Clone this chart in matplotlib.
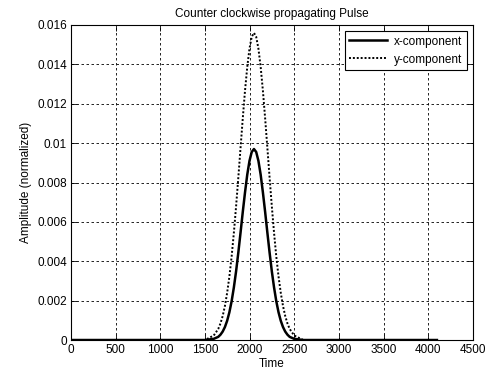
import matplotlib
matplotlib.use("Agg")
import matplotlib.pyplot as plt

# Time samples (pulse region, flat zero elsewhere)
time = [0, 1500, 1598, 1648, 1673, 1698, 1723, 1748, 1773, 1798, 1823, 1848,
        1873, 1898, 1923, 1948, 1973, 1998, 2023, 2048, 2073, 2098, 2123, 2148,
        2173, 2198, 2223, 2248, 2273, 2298, 2323, 2348, 2373, 2398, 2423, 2448,
        2498, 2600, 4096]

# x-component amplitude (normalized)
x_comp = [0, 0, 0.00006, 0.00016, 0.00027, 0.00043, 0.00066, 0.00098, 0.00141,
          0.00197, 0.00267, 0.00349, 0.00444, 0.00546, 0.00651, 0.0075, 0.0084,
          0.0091, 0.00955, 0.0097, 0.00955, 0.0091, 0.0084, 0.0075, 0.00651,
          0.00546, 0.00444, 0.00349, 0.00267, 0.00197, 0.00141, 0.00098, 0.00066,
          0.00043, 0.00027, 0.00016, 0.00006, 0, 0]

# y-component amplitude (normalized)
y_comp = [0, 0, 0.00023, 0.00056, 0.00084, 0.00122, 0.00173, 0.0024, 0.00323,
          0.00424, 0.00544, 0.00679, 0.00825, 0.00977, 0.01127, 0.01267, 0.01387,
          0.0148, 0.0154, 0.0156, 0.0154, 0.0148, 0.01387, 0.01267, 0.01127,
          0.00977, 0.00825, 0.00679, 0.00544, 0.00424, 0.00323, 0.0024, 0.00173,
          0.00122, 0.00084, 0.00056, 0.00023, 0, 0]

plt.rcParams['font.family'] = ['Liberation Sans', 'DejaVu Sans']
plt.rcParams['font.size'] = 8.5

fig = plt.figure(figsize=(4.92, 3.77), dpi=100)
ax = fig.add_axes([0.1443, 0.0981, 0.8171, 0.8356])

ax.plot(time, x_comp, color='black', linewidth=1.8, linestyle='-', label='x-component')
ax.plot(time, y_comp, color='black', linewidth=1.4, linestyle=(0, (1, 1)), label='y-component')

ax.set_xlim(0, 4500)
ax.set_ylim(0, 0.016)
ax.set_xticks(range(0, 4501, 500))
ax.set_yticks([0, 0.002, 0.004, 0.006, 0.008, 0.01, 0.012, 0.014, 0.016])
ax.set_yticklabels(['0', '0.002', '0.004', '0.006', '0.008', '0.01', '0.012', '0.014', '0.016'])

ax.grid(True, color='black', linestyle=(0, (3, 3)), linewidth=0.6)
ax.tick_params(direction='in', length=4, width=0.6, top=True, right=True, pad=3)
for s in ax.spines.values():
    s.set_linewidth(0.8)

ax.set_title('Counter clockwise propagating Pulse', fontsize=8.5, pad=6)
ax.set_xlabel('Time', labelpad=1)
ax.set_ylabel('Amplitude (normalized)', labelpad=4)

leg = ax.legend(loc='upper right', fancybox=False, edgecolor='black', framealpha=1,
                borderpad=0.4, handlelength=3.2, handletextpad=0.6, labelspacing=0.5,
                borderaxespad=0.5, fontsize=8.5)
leg.get_frame().set_linewidth(0.8)

fig.savefig('out.png', dpi=100)
